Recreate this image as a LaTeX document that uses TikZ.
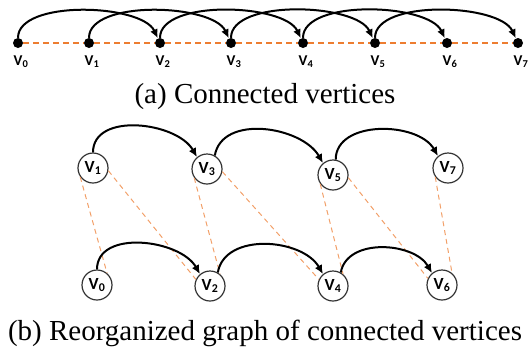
\documentclass[tikz,border=0pt]{standalone}
\usepackage{fontspec}
\setmainfont{Liberation Serif}
\newfontfamily\lblfont{Carlito}
\usetikzlibrary{arrows.meta,positioning}

\definecolor{linkorange}{RGB}{237,125,49}
\definecolor{paleorange}{RGB}{242,160,105}

\begin{document}
\begin{tikzpicture}[x=1pt,y=-1pt,
  dot/.style={circle,fill=black,inner sep=0pt,minimum size=10pt},
  vert/.style={circle,draw=black!80,line width=1.2pt,minimum size=30pt,inner sep=0pt,
    font=\lblfont\bfseries\fontsize{17}{17}\selectfont},
  vlabel/.style={inner sep=0pt,font=\lblfont\bfseries\fontsize{15}{15}\selectfont},
  hop/.style={line width=2pt,-{Latex[length=9pt,width=8pt]}},
  chainline/.style={draw=linkorange,line width=1.2pt,dash pattern=on 6pt off 4pt},
  paledash/.style={draw=paleorange,line width=1pt,dash pattern=on 5pt off 4pt},
  caption/.style={inner sep=0pt,font=\fontsize{29}{31}\selectfont}]

  \useasboundingbox (0,0) rectangle (532,349);

  % (a) the vertices in a row
  \foreach \i/\x in {0/18,1/89,2/160,3/231,4/303,5/375,6/447,7/518} {
    \node[dot] (a\i) at (\x,43) {};
    \node[vlabel,below=7pt of a\i,xshift=3pt] (la\i) {V\textsubscript{\i}};
  }
  \foreach \i [evaluate=\i as \j using int(\i+1)] in {0,...,6}
    \draw[chainline] (a\i) -- (a\j);
  \foreach \i [evaluate=\i as \j using int(\i+2)] in {0,...,5}
    \draw[hop] (a\i) to[out=90,in=115,looseness=0.7] (a\j);

  \node[caption] (capa) at (265,97) {(a) Connected vertices};

  % (b) odd vertices on top, even ones below
  \node[vert] (b1) at (93,168) {V\textsubscript{1}};
  \node[vert] (b3) at (207,169) {V\textsubscript{3}};
  \node[vert] (b5) at (333,175) {V\textsubscript{5}};
  \node[vert] (b7) at (448,168) {V\textsubscript{7}};
  \node[vert] (b0) at (97,285) {V\textsubscript{0}};
  \node[vert] (b2) at (210,286) {V\textsubscript{2}};
  \node[vert] (b4) at (333,286) {V\textsubscript{4}};
  \node[vert] (b6) at (442,285) {V\textsubscript{6}};

  \foreach \u/\l in {1/0,3/2,5/4,7/6}
    \draw[paledash] (b\u.215) -- (b\l.50);
  \foreach \u/\r in {1/2,3/4,5/6}
    \draw[paledash] (b\u.350) -- (b\r.155);

  \draw[hop] (b1.90) to[out=90,in=120] (b3.130);
  \draw[hop] (b3.60) to[out=80,in=120] (b5.130);
  \draw[hop] (b5.80) to[out=90,in=120] (b7.130);
  \draw[hop] (b0.90) to[out=90,in=120] (b2.130);
  \draw[hop] (b2.60) to[out=80,in=120] (b4.130);
  \draw[hop] (b4.60) to[out=80,in=120] (b6.130);

  \node[caption] (capb) at (265,333) {(b) Reorganized graph of connected vertices};
\end{tikzpicture}
\end{document}
